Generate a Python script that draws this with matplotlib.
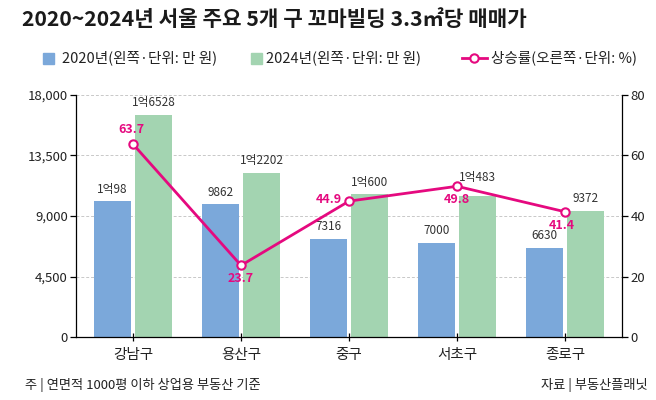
import matplotlib
matplotlib.use("Agg")
import matplotlib.pyplot as plt
from matplotlib.ticker import FuncFormatter, FixedLocator
from matplotlib.lines import Line2D
import numpy as np

plt.rcParams['font.family'] = ['Noto Sans CJK KR', 'DejaVu Sans']

districts = ["강남구", "용산구", "중구", "서초구", "종로구"]
price_2020 = [10098, 9862, 7316, 7000, 6630]
price_2024 = [16528, 12202, 10600, 10483, 9372]
labels_2020 = ["1억98", "9862", "7316", "7000", "6630"]
labels_2024 = ["1억6528", "1억2202", "1억600", "1억483", "9372"]
growth = [63.7, 23.7, 44.9, 49.8, 41.4]
left_ticks = [0, 4500, 9000, 13500, 18000]
right_ticks = [0, 20, 40, 60, 80]

BLUE = "#7BA8DA"
GREEN = "#A3D4B1"
PINK = "#E5097F"
TEXT = "#222222"

fig = plt.figure(figsize=(6.56, 4.0), dpi=100)
ax = fig.add_axes([76/656, 1-337.3/400, (622-76)/656, (337.3-94.7)/400])
ax2 = ax.twinx()

x = np.arange(len(districts))
w = 0.34
off = 0.19
ax.bar(x - off, price_2020, width=w, color=BLUE, zorder=2)
ax.bar(x + off, price_2024, width=w, color=GREEN, zorder=2)

ax.set_ylim(0, 18000)
ax.set_xlim(-0.528, 4.528)
ax.yaxis.set_major_locator(FixedLocator(left_ticks))
ax.yaxis.set_major_formatter(FuncFormatter(lambda v, p: f"{int(v):,}"))
ax.set_xticks(x)
ax.set_xticklabels(districts, fontsize=10.5, color=TEXT)
ax.tick_params(axis='x', direction='inout', length=6, width=0.9, pad=5)
ax.tick_params(axis='y', direction='out', length=4, width=0.9, labelsize=9.5, labelcolor=TEXT, pad=2)
ax.grid(axis='y', linestyle=(0, (3, 2)), color='#c8c8c8', linewidth=0.7, zorder=0)
ax.set_axisbelow(True)
for s in ['top', 'right']:
    ax.spines[s].set_visible(False)
ax.spines['left'].set_linewidth(0.9)
ax.spines['bottom'].set_linewidth(0.9)

ax2.set_ylim(0, 80)
ax2.yaxis.set_major_locator(FixedLocator(right_ticks))
ax2.tick_params(axis='y', direction='out', length=4, width=0.9, labelsize=9.5, labelcolor=TEXT, pad=2)
for s in ['top', 'left', 'bottom']:
    ax2.spines[s].set_visible(False)
ax2.spines['right'].set_linewidth(0.9)
ax2.plot(x, growth, color=PINK, linewidth=2, marker='o', markersize=6,
         markerfacecolor='white', markeredgecolor=PINK, markeredgewidth=1.5, zorder=5)

# value labels on bars
for i in range(len(x)):
    ax.annotate(labels_2020[i], (x[i] - off, price_2020[i]), xytext=(0, 4),
                textcoords='offset points', ha='center', va='bottom',
                fontsize=8.5, color='#333333')
    dy = 9 if i == 3 else 4
    ax.annotate(labels_2024[i], (x[i] + off, price_2024[i]), xytext=(0, dy),
                textcoords='offset points', ha='center', va='bottom',
                fontsize=8.5, color='#333333')

# growth labels (offset points)
gpos = [(-1, 6, 'center', 'bottom'), (0, -5, 'center', 'top'), (-5, 1, 'right', 'center'),
        (0, -5, 'center', 'top'), (-2, -5, 'center', 'top')]
for i in range(len(x)):
    dx, dy, ha, va = gpos[i]
    ax2.annotate(f"{growth[i]}", (x[i], growth[i]), xytext=(dx, dy),
                 textcoords='offset points', ha=ha, va=va,
                 fontsize=9, color=PINK, fontweight='bold', zorder=6)

# title
fig.text(22/656, 1-20/400, "2020~2024년 서울 주요 5개 구 꼬마빌딩 3.3㎡당 매매가",
         fontsize=15.3, fontweight='bold', color='#1a1a1a', ha='left', va='center')

# legend
ly = 1 - 58/400
fig.patches.append(plt.Rectangle((43/656, ly - 5.5/400), 11/656, 11/400,
                                 transform=fig.transFigure, color=BLUE))
fig.text(62/656, ly, "2020년(왼쪽·단위: 만 원)", fontsize=10.5, color=TEXT, ha='left', va='center')
fig.patches.append(plt.Rectangle((251/656, ly - 5.5/400), 11/656, 11/400,
                                 transform=fig.transFigure, color=GREEN))
fig.text(266/656, ly, "2024년(왼쪽·단위: 만 원)", fontsize=10.5, color=TEXT, ha='left', va='center')
fig.lines.append(Line2D([462/656, 487/656], [ly, ly], transform=fig.transFigure,
                        color=PINK, linewidth=2))
fig.lines.append(Line2D([474.5/656], [ly], transform=fig.transFigure, color=PINK, marker='o',
                        markersize=6, markerfacecolor='white', markeredgecolor=PINK,
                        markeredgewidth=1.5))
fig.text(491/656, ly, "상승률(오른쪽·단위: %)", fontsize=10.5, color=TEXT, ha='left', va='center')

# footer
fig.text(25/656, 1-385/400, "주 | 연면적 1000평 이하 상업용 부동산 기준", fontsize=9.5,
         color=TEXT, ha='left', va='center')
fig.text(648/656, 1-385/400, "자료 | 부동산플래닛", fontsize=9.5,
         color=TEXT, ha='right', va='center')

fig.savefig("out.png", dpi=100, facecolor='white')
